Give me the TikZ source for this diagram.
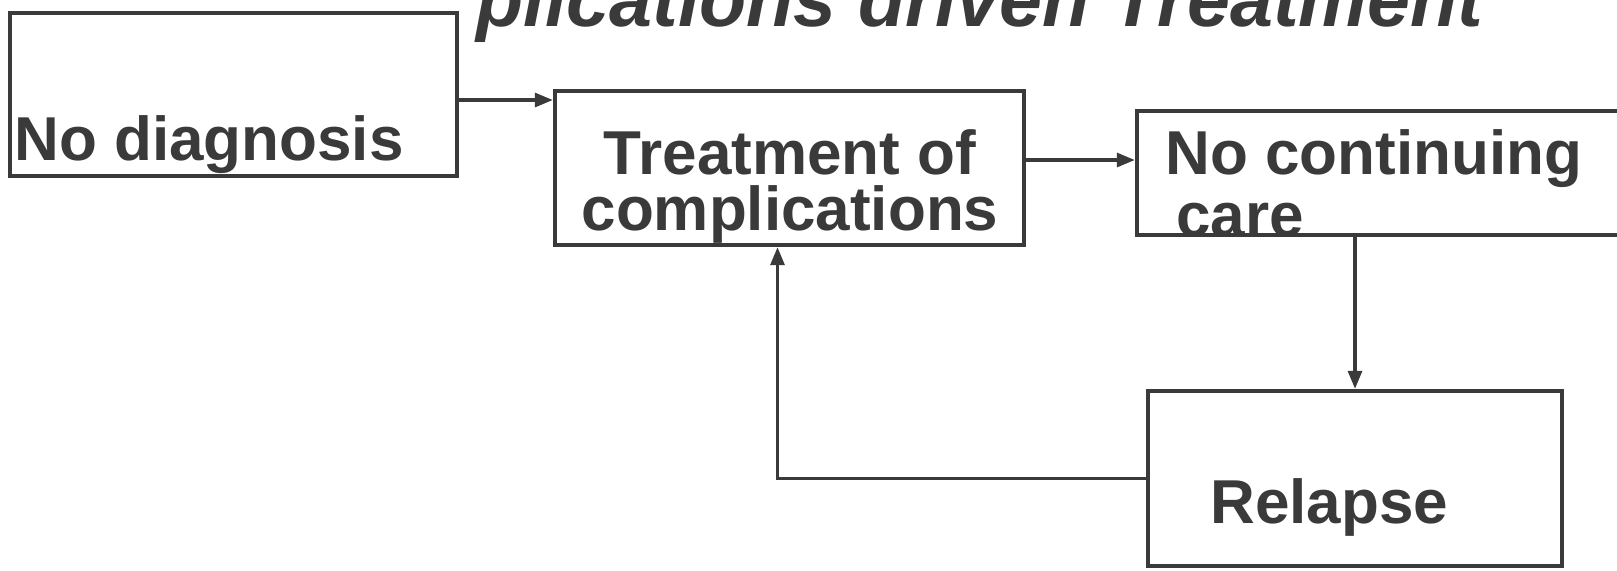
\documentclass[tikz,border=0pt]{standalone}
\usepackage{fontspec}
\setmainfont{Liberation Sans}
\usetikzlibrary{arrows.meta}
\definecolor{ink}{HTML}{3A3A3A}
\tikzset{
  stage/.style={draw=ink, line width=2.2pt, shape=rectangle, inner sep=0pt},
  stagetext/.style={text=ink, inner sep=0pt, font=\fontsize{31}{23}\selectfont\bfseries},
  flow/.style={draw=ink, line width=1.6pt, -{Triangle[length=9pt,width=7pt]}}
}
\begin{document}
\begin{tikzpicture}[x=0.5pt,y=-0.5pt]
   \useasboundingbox (0,0) rectangle (1617,570);
   \clip (0,0) rectangle (1617,570);
   \path (476,26) node[anchor=base west, inner sep=0pt, text=ink,
     font=\fontsize{38.6}{40}\selectfont\bfseries\itshape] (title) {plications driven Treatment};
   \path (233.5,94.5) node[stage, minimum width=223.5pt, minimum height=81.5pt] (D) {};
   \path (789.5,168) node[stage, minimum width=234.5pt, minimum height=77pt] (T) {};
   \path (1393.5,173) node[stage, minimum width=256.5pt, minimum height=62pt] (C) {};
   \path (1355,478.5) node[stage, minimum width=207pt, minimum height=87.5pt] (R) {};
   \path (14,160) node[stagetext, anchor=base west] (Dt) {No diagnosis};
   \path (790,174) node[stagetext, anchor=base] (Tt) {Treatment of};
   \path (790,230) node[stagetext, anchor=base] (Tc) {complications};
   \path (1165,174) node[stagetext, anchor=base west] (Ct) {No continuing};
   \path (1176,236) node[stagetext, anchor=base west] (Cc) {care};
   \path (1210,523) node[stagetext, anchor=base west] (Rt) {Relapse};
   \draw[flow] ([yshift=-2.75pt]D.east) -- ([yshift=-2.75pt]D.east -| T.west);
   \draw[flow] ([yshift=4pt]T.east) -- ([yshift=4pt]T.east -| C.west);
   \draw[flow] (R.north |- C.south) -- (R.north);
   \draw[flow] (R.west) -| ([xshift=-6pt]T.south);
\end{tikzpicture}
\end{document}
